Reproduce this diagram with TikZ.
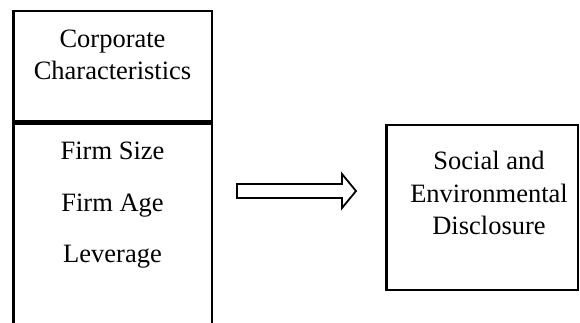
\documentclass[tikz,border=0pt]{standalone}
\usepackage{fontspec}
\setmainfont{Liberation Serif}
\begin{document}
\begin{tikzpicture}[x=1pt,y=-1pt,
  boxline/.style={draw=black,line width=2.8pt},
  label/.style={anchor=base,inner sep=0pt,font=\fontsize{26.5}{32.5}\selectfont},
  blockarrow/.style={draw=black,line width=1.8pt,fill=white,line join=miter}]
\useasboundingbox (0,0) rectangle (580,322);
% left upper box
\draw[boxline] (13.5,11) rectangle (212,121);
% left lower box (open at the bottom)
\draw[boxline] (13.5,330) -- (13.5,123.8) -- (212,123.8) -- (212,330);
% right box
\draw[boxline] (386.5,125) rectangle (578,290);
% texts
\node[label] (corp) at (112.5,47) {Corporate};
\node[label] (char) at (112.5,79) {Characteristics};
\node[label] (size) at (112.5,159) {Firm Size};
\node[label] (age) at (112.5,211) {Firm Age};
\node[label] (lev) at (112.5,262) {Leverage};
\node[label] (soc) at (489,169) {Social and};
\node[label] (env) at (489,202) {Environmental};
\node[label] (disc) at (489,234) {Disclosure};
% block arrow
\draw[blockarrow] (237,184) -- (342,184) -- (342,174) -- (356,191) -- (342,208) -- (342,198) -- (237,198) -- cycle;
\end{tikzpicture}
\end{document}
